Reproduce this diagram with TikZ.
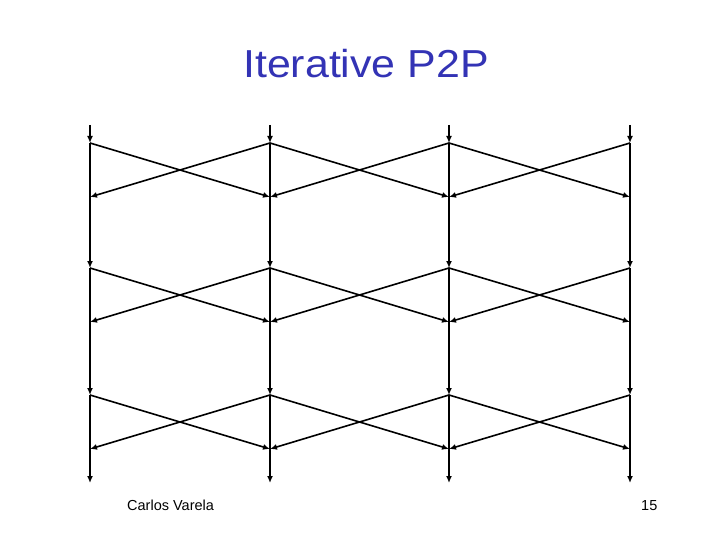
\documentclass[tikz,border=0pt]{standalone}
\usepackage{fontspec}
\setmainfont{Liberation Sans}
\usetikzlibrary{arrows.meta}
\definecolor{titleblue}{RGB}{51,51,181}
\tikzset{
  seg/.style={line width=1.8pt, -{Latex[length=7pt,width=6pt]}},
  plain/.style={line width=1.8pt},
  cross/.style={line width=1.6pt, -{Latex[length=7pt,width=6pt]}},
  titletext/.style={text=titleblue, font=\fontsize{39}{44}\selectfont, anchor=base, inner sep=0pt},
  foot/.style={font=\fontsize{14.5}{17}\selectfont, anchor=base west, inner sep=0pt}
}
\begin{document}
\begin{tikzpicture}[x=1pt,y=-1pt]
\useasboundingbox[fill=white] (0,0) rectangle (720,540);
\node[titletext] (title) at (366,78) {\scalebox{1.1}[1]{Iterative P2P}};
\node[foot] (author) at (127,510) {Carlos Varela};
\node[foot] (page) at (641,510) {15};
% columns
\foreach \c/\x in {1/90,2/270,3/449,4/630}{
  \coordinate (t\c) at (\x,125);
  \coordinate (a1\c) at (\x,143);
  \coordinate (b1\c) at (\x,197);
  \coordinate (a2\c) at (\x,268);
  \coordinate (b2\c) at (\x,322);
  \coordinate (a3\c) at (\x,395);
  \coordinate (b3\c) at (\x,449);
  \coordinate (e\c) at (\x,483);
  \draw[seg] (t\c) -- (a1\c);
  \draw[plain] (a1\c) -- (b1\c);
  \draw[seg] (b1\c) -- (a2\c);
  \draw[plain] (a2\c) -- (b2\c);
  \draw[seg] (b2\c) -- (a3\c);
  \draw[plain] (a3\c) -- (b3\c);
  \draw[seg] (b3\c) -- (e\c);
}
% crossings
\foreach \r in {1,2,3}{
  \foreach \l/\rr in {1/2,2/3,3/4}{
    \draw[cross] (a\r\l) -- (b\r\rr);
    \draw[cross] (a\r\rr) -- (b\r\l);
  }
}
\end{tikzpicture}
\end{document}
